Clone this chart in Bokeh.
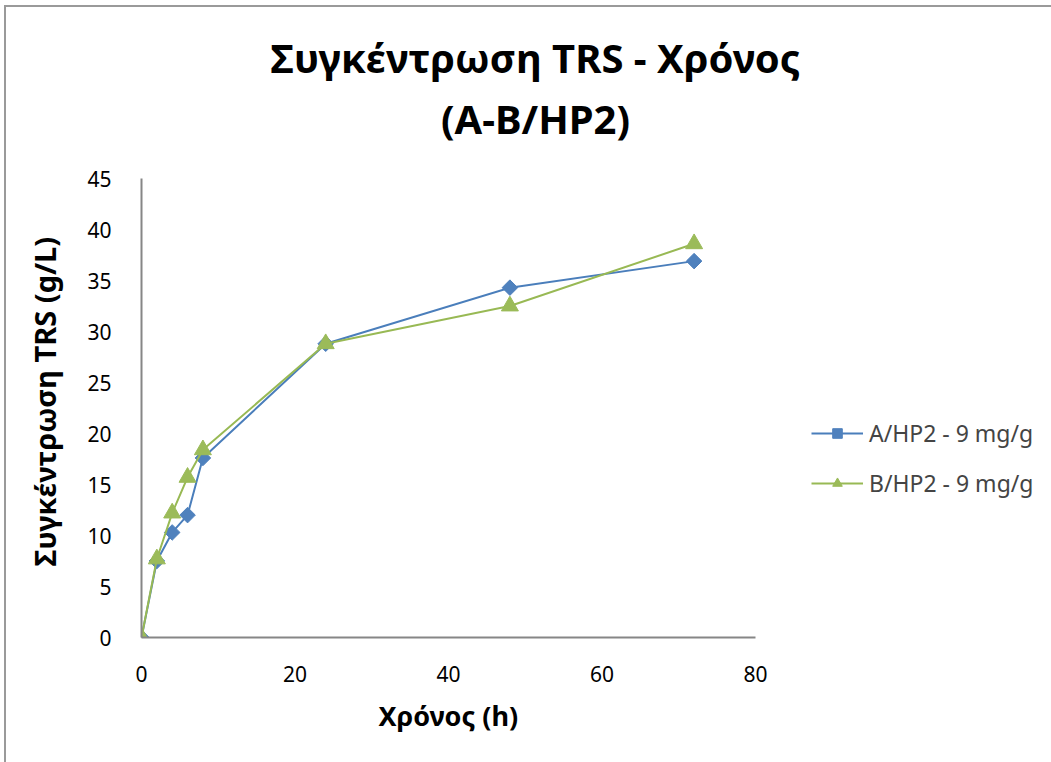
from math import pi

from bokeh.embed import file_html
from bokeh.models import Label, Legend, LegendItem, Range1d, SingleIntervalTicker, Title
from bokeh.plotting import figure
from bokeh.resources import INLINE

# Sampling times (h) and total reducing sugar concentration (g/L)
time_h = [0, 2, 4, 6, 8, 24, 48, 72]
trs_a = [0, 7.5, 10.3, 12.0, 17.6, 28.8, 34.3, 36.9]
trs_b = [0, 7.7, 12.2, 15.7, 18.4, 28.8, 32.5, 38.6]

series_names = ["A/HP2 - 9 mg/g", "B/HP2 - 9 mg/g"]
title_lines = ["Συγκέντρωση TRS - Χρόνος", "(A-B/HP2)"]
x_label = "Χρόνος (h)"
y_label = "Συγκέντρωση TRS (g/L)"
x_max, y_max = 80, 45

FONT = "Noto Sans"
AXIS_GREY = "#868686"
BLUE_LINE, BLUE_MARK = "#4A7EBB", "#4F81BD"
GREEN_LINE, GREEN_MARK = "#98B954", "#9BBB59"

W, H = 1051, 762
# the data region spans x 141..755 and y 178..637 on the canvas; the frame
# itself is stretched to the top/right edges so that the title and legend
# can be drawn inside it, and the axes are bounded to the data region.
AX_L, AX_R, AX_T, AX_B = 141, 755, 178, 637
x_end = x_max * (W - AX_L) / (AX_R - AX_L)
y_end = y_max * AX_B / (AX_B - AX_T)

p = figure(
    width=W, height=H,
    x_range=Range1d(0, x_end), y_range=Range1d(0, y_end),
    output_backend="svg", toolbar_location=None,
    min_border_left=AX_L, min_border_right=0,
    min_border_top=0, min_border_bottom=H - AX_B,
)
p.title.visible = False
p.outline_line_color = None
p.background_fill_alpha = 0
p.border_fill_alpha = 0
p.grid.visible = False
# thin outer chart border along the top and left edges
p.styles = {"box-shadow": "inset 4px 5px 0 0 white, inset 6px 7px 0 0 #9a9a9a"}

for ax in (p.xaxis[0], p.yaxis[0]):
    ax.axis_line_color = AXIS_GREY
    ax.axis_line_width = 2
    ax.major_tick_line_color = None
    ax.minor_tick_line_color = None
    ax.major_label_text_font = FONT
    ax.major_label_text_font_size = "21px"
    ax.major_label_text_color = "black"

p.xaxis.bounds = (0, x_max)
p.yaxis.bounds = (0, y_max)
p.xaxis.ticker = SingleIntervalTicker(interval=20)
p.yaxis.ticker = SingleIntervalTicker(interval=5)
p.xaxis.major_label_standoff = 22
p.yaxis.major_label_standoff = 24

# axis titles, centred on the data region rather than the stretched frame
p.add_layout(Title(
    text=x_label, align="left", offset=237, vertical_align="top", standoff=24,
    text_font=FONT, text_font_style="bold", text_font_size="27px",
    text_color="black",
), "below")
p.add_layout(Title(
    text=y_label, align="left", offset=71, vertical_align="bottom", standoff=41,
    text_font=FONT, text_font_style="bold", text_font_size="29px",
    text_color="black",
), "left")

la = p.line(time_h, trs_a, line_color=BLUE_LINE, line_width=2)
sa = p.scatter(time_h, trs_a, marker="square", angle=pi / 4, size=11,
               fill_color=BLUE_MARK, line_color=BLUE_MARK)
lb = p.line(time_h, trs_b, line_color=GREEN_LINE, line_width=2)
sb = p.scatter(time_h, trs_b, marker="triangle", size=17,
               fill_color=GREEN_MARK, line_color=GREEN_MARK)

legend = Legend(
    items=[LegendItem(label=series_names[0], renderers=[la, sa]),
           LegendItem(label=series_names[1], renderers=[lb, sb])],
    location=(670, 138),
    background_fill_alpha=0, border_line_color=None,
    glyph_width=52, glyph_height=24, label_height=24,
    spacing=18, label_standoff=6, padding=0, margin=0,
    label_text_font=FONT, label_text_font_size="23px",
)
p.add_layout(legend, "center")

# chart title, two centred lines above the data region
for txt, cy in zip(title_lines, [57, 118]):
    p.add_layout(Label(
        x=535 - AX_L, y=AX_B - cy, x_units="screen", y_units="screen",
        text=txt, text_align="center", text_baseline="middle",
        text_font=FONT, text_font_style="bold", text_font_size="40px",
        text_color="black",
    ))

open("out.html", "w").write(file_html(p, INLINE))
